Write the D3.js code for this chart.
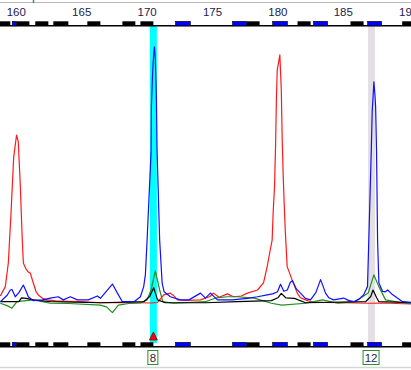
<!DOCTYPE html>
<html>
<head>
<meta charset="utf-8">
<script src="https://cdn.jsdelivr.net/npm/d3@7"></script>
<style>
  body { margin: 0; background: #fff; }
  svg { display: block; font-family: "Liberation Sans", Arial, sans-serif; }
</style>
</head>
<body>
<svg id="chart" width="411" height="370"></svg>
<script>
// size axis (bp)
var sizeTicks = [160, 165, 170, 175, 180, 185, 190];

// signal traces, [bp, rfu]
var redTrace = [
  [158.78, 27], [159.16, 63], [159.39, 154], [159.6, 350], [159.8, 560], [160.02, 646], [160.15, 620],
  [160.31, 447], [160.45, 250], [160.54, 154], [160.75, 130], [160.92, 119], [161.07, 115], [161.3, 77],
  [161.5, 45], [161.68, 31], [162.0, 18], [162.37, 12], [163.0, 8], [164.0, 6], [165, 5], [166.43, 1],
  [168, 2], [169.49, 1], [170.3, 0], [170.8, 2], [171.27, 31], [171.78, 38], [172.0, 30], [172.32, 12],
  [173, 10], [174.08, 12], [174.8, 25], [175.07, 38], [175.5, 22], [176.14, 35], [176.6, 24], [177.2, 27],
  [177.67, 38], [178.44, 50], [178.9, 77], [179.18, 140], [179.4, 200], [179.56, 242], [179.64, 351],
  [179.74, 446], [179.82, 601], [179.89, 793], [179.95, 896], [180.15, 954], [180.26, 819], [180.33, 627],
  [180.41, 481], [180.48, 385], [180.56, 281], [180.71, 140], [181.09, 88], [181.48, 38], [181.73, 20],
  [182.11, 12], [182.5, 5], [183.5, 2], [185, 1], [187, -1], [188, 0], [190.3, -4]
];
var blueTrace = [
  [158.78, 5], [159.3, 30], [159.54, 50], [159.67, 52], [159.92, 24], [160.2, 40], [160.54, 69], [160.75, 45],
  [160.92, 24], [161.3, 9], [162.0, 12], [162.6, 19], [163.21, 24], [163.6, 12], [164.13, 24], [164.67, 12],
  [165.5, 12], [166.2, 27], [166.43, 18], [166.8, 40], [167.35, 73], [167.73, 38], [168.11, 5], [169.0, 5],
  [169.49, 24], [169.74, 63], [169.87, 110], [170.0, 242], [170.31, 588], [170.33, 755], [170.43, 896],
  [170.5, 954], [170.56, 985], [170.63, 935], [170.71, 793], [170.76, 588], [170.96, 242], [171.15, 77],
  [171.3, 43], [171.78, 24], [172.55, 12], [173.2, 12], [174.08, 38], [174.46, 19], [174.84, 38],
  [175.38, 12], [176.5, 12], [177.67, 18], [178.44, 24], [179.18, 31], [179.6, 35], [179.97, 43],
  [180.2, 72], [180.45, 45], [180.72, 50], [180.95, 80], [181.12, 86], [181.4, 55], [181.73, 38],
  [182.1, 18], [182.49, 12], [182.9, 40], [183.26, 90], [183.45, 65], [183.64, 38], [183.9, 20],
  [184.25, 12], [184.6, 15], [185.02, 19], [185.4, 10], [185.78, 5], [186.2, 15], [186.55, 31],
  [186.85, 63], [186.95, 242], [187.14, 588], [187.21, 736], [187.34, 851], [187.42, 800], [187.47, 755],
  [187.54, 588], [187.62, 242], [187.72, 77], [188.0, 45], [188.23, 43], [188.39, 50], [188.7, 35],
  [189.0, 24], [189.53, 5], [190.3, 2]
];
var greenTrace = [
  [158.78, -1], [159.3, -10], [159.67, -20], [160.05, 5], [161.3, 12], [162.6, -1], [164, -2], [166.43, -8],
  [166.9, -15], [167.35, -37], [167.8, -8], [168.6, -2], [169.5, 0], [170.0, 12], [170.3, 50], [170.63, 124],
  [170.96, 50], [171.2, 5], [172, -1], [174.46, 5], [175.3, 20], [176.14, 24], [176.9, 24], [178.2, 19],
  [179.5, -1], [180.3, -8], [182.11, -1], [183.4, 12], [184.6, -1], [185.9, 5], [186.9, 38], [187.34, 108],
  [187.72, 63], [188.23, 12], [189.76, -1], [190.3, -1]
];
var blackTrace = [
  [158.78, 5], [160.2, 5], [160.4, 20], [160.75, 18], [161.3, 12], [162.6, 5], [166.43, 1], [169.74, 5],
  [170.2, 25], [170.5, 59], [170.8, 12], [171.4, 1], [174.46, 1], [176.9, 5], [179.5, 9], [180.0, 20],
  [180.26, 37], [180.6, 20], [181.27, 18], [182.11, 1], [186.7, 5], [187.1, 25], [187.27, 50], [187.55, 20],
  [187.72, 5], [190.3, 1]
];

// bins [start bp, end bp]
var binsBlack = [[158.7, 159.54], [160.0, 161.0], [161.45, 162.45], [162.83, 163.98], [165.43, 166.43],
  [168.11, 169.1], [169.49, 170.48], [177.6, 178.6], [181.5, 182.5], [185.55, 186.55], [189.5, 190.5]];
var binsBlue = [[159.69, 160.0], [172.17, 173.31], [176.53, 177.6], [179.6, 180.73], [182.72, 183.8], [186.86, 187.93]];

// called alleles
var alleleSizes = [170.48, 187.16];
var alleleLabels = ["8", "12"];

var svg = d3.select('#chart');
var W = 411, H = 370;

var x = d3.scaleLinear().domain([160, 185]).range([16.3, 343.3]);
var y = d3.scaleLinear().domain([0, 1000]).range([303, 43]);

// window frame bits on top
svg.append('line').attr('x1', 0).attr('x2', W).attr('y1', 2.5).attr('y2', 2.5)
  .attr('stroke', '#b8b8b8').attr('stroke-width', 1);
svg.append('line').attr('x1', 33.5).attr('x2', 33.5).attr('y1', 0).attr('y2', 3)
  .attr('stroke', '#3a9a3a').attr('stroke-width', 1.5);

// tick labels
svg.selectAll('.tick-label')
  .data(sizeTicks)
  .enter()
  .append('text')
  .attr('class', 'tick-label')
  .attr('x', d => x(d))
  .attr('y', 15.5)
  .attr('text-anchor', 'middle')
  .attr('font-size', '11.5px')
  .attr('fill', '#1c1c4c')
  .text(d => d);

// highlight bands for called peaks
var bandColors = ['#00ffff', '#e3dfe3'];
svg.selectAll('.band')
  .data(alleleSizes)
  .enter()
  .append('rect')
  .attr('class', 'band')
  .attr('x', d => x(d) - 3.5)
  .attr('width', 7)
  .attr('y', 26)
  .attr('height', 317)
  .attr('fill', (d, i) => bandColors[i]);

// bin bars, top and bottom
function binBar(yBase) {
  var g = svg.append('g');
  g.append('line').attr('x1', 0).attr('x2', W).attr('y1', yBase).attr('y2', yBase)
    .attr('stroke', '#000').attr('stroke-width', 1.5);
  g.selectAll('.bk').data(binsBlack).enter().append('rect')
    .attr('x', d => x(d[0])).attr('width', d => x(d[1]) - x(d[0]))
    .attr('y', yBase - 4.5).attr('height', 4.5).attr('fill', '#000');
  g.selectAll('.bl').data(binsBlue).enter().append('rect')
    .attr('x', d => x(d[0])).attr('width', d => x(d[1]) - x(d[0]))
    .attr('y', yBase - 4.5).attr('height', 4.5).attr('fill', '#0000ff')
    .attr('stroke', '#000').attr('stroke-width', 0.6);
}
binBar(25.8);
binBar(346.8);

// traces
svg.append('defs').append('clipPath').attr('id', 'plotclip')
  .append('rect').attr('x', 0).attr('y', 27).attr('width', W).attr('height', 314);

var line = d3.line().x(d => x(d[0])).y(d => y(d[1]));
var traces = [
  { data: redTrace, color: '#ff1a1a' },
  { data: greenTrace, color: '#1f8f1f' },
  { data: blackTrace, color: '#000000' },
  { data: blueTrace, color: '#1010ff' }
];
svg.append('g').attr('clip-path', 'url(#plotclip)')
  .selectAll('path')
  .data(traces)
  .enter()
  .append('path')
  .attr('d', d => line(d.data))
  .attr('fill', 'none')
  .attr('stroke', d => d.color)
  .attr('stroke-width', 1.2)
  .attr('stroke-linejoin', 'round');

// red marker triangle under first allele
var tx = x(alleleSizes[0]);
svg.append('path')
  .attr('d', `M${tx},332 L${tx + 4},340 L${tx - 4},340 Z`)
  .attr('fill', '#ff0000')
  .attr('stroke', '#8a0000')
  .attr('stroke-width', 0.8);

// allele labels
var labelW = [10, 16];
var lab = svg.selectAll('.allele')
  .data(alleleSizes)
  .enter()
  .append('g')
  .attr('class', 'allele');
lab.append('rect')
  .attr('x', (d, i) => x(d) - labelW[i] / 2 - 0.5)
  .attr('y', 350.5)
  .attr('width', (d, i) => labelW[i])
  .attr('height', 14)
  .attr('fill', '#fff')
  .attr('stroke', '#2e8b2e')
  .attr('stroke-width', 1);
lab.append('text')
  .attr('x', d => x(d) - 0.5)
  .attr('y', 361.5)
  .attr('text-anchor', 'middle')
  .attr('font-size', '11.5px')
  .attr('fill', '#2a2a3a')
  .text((d, i) => alleleLabels[i]);

// light frame line at bottom
svg.append('line').attr('x1', 0).attr('x2', W).attr('y1', 367.5).attr('y2', 367.5)
  .attr('stroke', '#d6d6d6').attr('stroke-width', 1.5);
</script>
</body>
</html>
